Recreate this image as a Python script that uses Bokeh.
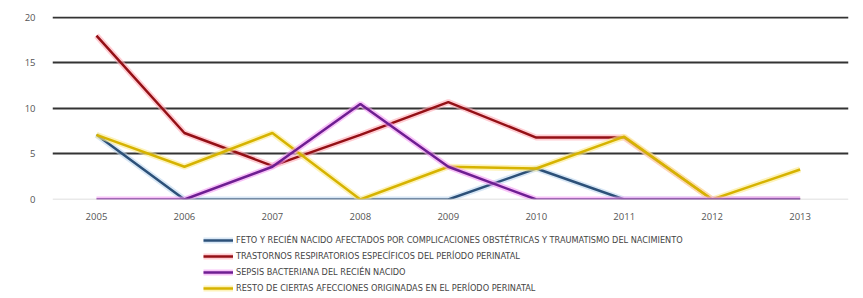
from bokeh.plotting import figure
from bokeh.models import Legend, LegendItem, FixedTicker, Range1d, Span
from bokeh.layouts import column
from bokeh.embed import file_html
from bokeh.resources import INLINE

years = [2005, 2006, 2007, 2008, 2009, 2010, 2011, 2012, 2013]
feto = [7.1, 0, 0, 0, 0, 3.4, 0, 0, 0]
trastornos = [18.0, 7.3, 3.7, 7.1, 10.7, 6.8, 6.8, 0, 0]
sepsis = [0, 0, 3.6, 10.5, 3.6, 0, 0, 0, 0]
resto = [7.1, 3.6, 7.3, 0, 3.6, 3.4, 6.9, 0, 3.3]
labels = [
    "FETO Y RECIÉN NACIDO AFECTADOS POR COMPLICACIONES OBSTÉTRICAS Y TRAUMATISMO DEL NACIMIENTO",
    "TRASTORNOS RESPIRATORIOS ESPECÍFICOS DEL PERÍODO PERINATAL",
    "SEPSIS BACTERIANA DEL RECIÉN NACIDO",
    "RESTO DE CIERTAS AFECCIONES ORIGINADAS EN EL PERÍODO PERINATAL",
]
y_ticks = [0, 5, 10, 15, 20]

series = [
    (feto, "#2c5078", "#bcd6ee"),
    (trastornos, "#941016", "#ffaab4"),
    (sepsis, "#6e1e92", "#f39af3"),
    (resto, "#d6b300", "#fbe98a"),
]

p = figure(width=863, height=225, output_backend="svg", toolbar_location=None,
           x_range=Range1d(2004.5, 2013.55), y_range=Range1d(0, 20.1))
p.min_border_left = 52
p.min_border_right = 15
p.min_border_top = 16
p.min_border_bottom = 26
p.outline_line_color = None

p.xgrid.grid_line_color = None
p.ygrid.ticker = FixedTicker(ticks=[5, 10, 15, 20])
p.ygrid.grid_line_color = "#333333"
p.ygrid.grid_line_width = 2

p.add_layout(Span(location=0, dimension="width", line_color="#d4d4d4", line_width=1.5))

p.xaxis.ticker = FixedTicker(ticks=years)
p.yaxis.ticker = FixedTicker(ticks=y_ticks)
for ax in (p.xaxis[0], p.yaxis[0]):
    ax.axis_line_color = None
    ax.major_tick_line_color = None
    ax.minor_tick_line_color = None
    ax.major_label_text_color = "#555555"
    ax.major_label_text_font_size = "9.5px"
    ax.major_label_text_font = "Open Sans"
p.yaxis.major_label_standoff = 11
p.xaxis.major_label_standoff = 7

for i in [1, 0, 3, 2]:
    vals, col, glow = series[i]
    p.line(years, vals, line_color=glow, line_width=6, line_alpha=0.6)
    p.line(years, vals, line_color=col, line_width=2.5)

# legend panel
lg = figure(width=863, height=73, output_backend="svg", toolbar_location=None,
            x_range=Range1d(0, 1), y_range=Range1d(0, 1))
lg.min_border_left = 0
lg.min_border_right = 0
lg.min_border_top = 0
lg.min_border_bottom = 0
lg.outline_line_color = None
lg.axis.visible = False
lg.grid.visible = False

items = []
for i in range(4):
    vals, col, glow = series[i]
    g = lg.line(years, [v - 100 for v in vals], line_color=glow, line_width=6, line_alpha=0.6)
    r = lg.line(years, [v - 100 for v in vals], line_color=col, line_width=2.5)
    items.append(LegendItem(label=labels[i], renderers=[g, r]))

legend = Legend(items=items, location=(151, 2), orientation="vertical",
                border_line_color=None, background_fill_alpha=0,
                padding=0, margin=0, spacing=0,
                glyph_width=30, glyph_height=16, label_height=16,
                label_standoff=3,
                label_text_font_size="9.1px", label_text_color="#444444",
                label_text_font="DejaVu Sans Condensed")
lg.add_layout(legend, "center")

layout = column(p, lg, spacing=0)
open("out.html", "w").write(file_html(layout, INLINE))
